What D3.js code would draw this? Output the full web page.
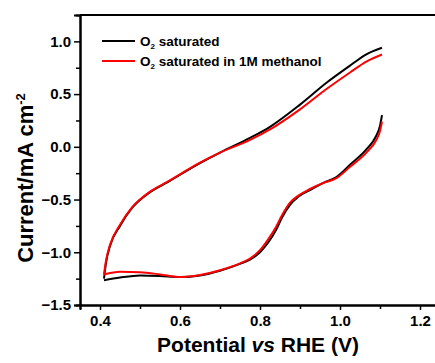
<!DOCTYPE html>
<html>
<head>
<meta charset="utf-8">
<script src="https://cdnjs.cloudflare.com/ajax/libs/d3/7.8.5/d3.min.js"></script>
<style>
  body { margin: 0; background: #fff; }
  text { font-family: "Liberation Sans", Arial, sans-serif; font-weight: bold; fill: #000; }
</style>
</head>
<body>
<div id="chart"></div>
<script>
// potentials (V vs RHE) for the forward (anodic) and reverse (cathodic) sweeps
var forwardPotential = [0.41, 0.415, 0.425, 0.45, 0.48, 0.525, 0.567, 0.65, 0.70, 0.775, 0.825, 0.90, 0.967, 1.025, 1.067, 1.105];
var reversePotential = [1.105, 1.10, 1.09, 1.067, 1.025, 0.99, 0.96, 0.925, 0.895, 0.875, 0.855, 0.84, 0.82, 0.80, 0.775, 0.75, 0.70, 0.65, 0.60, 0.55, 0.50, 0.45, 0.41];

// current density (mA cm-2)
var o2Forward = [-1.25, -1.10, -0.94, -0.75, -0.58, -0.43, -0.34, -0.155, -0.055, 0.085, 0.19, 0.40, 0.61, 0.77, 0.88, 0.94];
var o2Reverse = [0.30, 0.20, 0.10, -0.02, -0.17, -0.29, -0.34, -0.41, -0.475, -0.55, -0.67, -0.79, -0.91, -1.00, -1.07, -1.11, -1.175, -1.22, -1.235, -1.225, -1.22, -1.24, -1.265];
var methForward = [-1.21, -1.08, -0.93, -0.74, -0.575, -0.425, -0.335, -0.15, -0.055, 0.065, 0.165, 0.355, 0.55, 0.705, 0.81, 0.875];
var methReverse = [0.24, 0.15, 0.06, -0.05, -0.19, -0.30, -0.34, -0.40, -0.465, -0.53, -0.65, -0.76, -0.88, -0.98, -1.06, -1.105, -1.17, -1.215, -1.235, -1.21, -1.19, -1.185, -1.21];

var seriesNames = ['O2 saturated', 'O2 saturated in 1M methanol'];
var seriesColors = ['#000000', '#ff0000'];

var xTicks = [0.4, 0.6, 0.8, 1.0, 1.2];
var xMinor = [0.5, 0.7, 0.9, 1.1];
var yTicks = [-1.5, -1.0, -0.5, 0.0, 0.5, 1.0];
var yMinor = [-1.25, -0.75, -0.25, 0.25, 0.75];

var margin = { top: 15, left: 80 };
var width = 360, height = 290;

var svg = d3.select('#chart').append('svg')
  .attr('width', 435)
  .attr('height', 363);

var g = svg.append('g')
  .attr('transform', 'translate(' + margin.left + ',' + margin.top + ')');

var x = d3.scaleLinear().domain([0.35, 1.25]).range([0, width]);
var y = d3.scaleLinear().domain([-1.5, 1.25]).range([height, 0]);

function styleAxis(sel) {
  sel.select('.domain').attr('stroke', '#000').attr('stroke-width', 2);
  sel.selectAll('.tick line').attr('stroke', '#000').attr('stroke-width', 1.5);
  sel.selectAll('.tick text').style('font-size', '15px');
}

// frame (top + right)
g.append('path')
  .attr('d', 'M0,0H' + width + 'V' + height)
  .attr('fill', 'none').attr('stroke', '#000').attr('stroke-width', 2);

// minor ticks
g.append('g')
  .attr('transform', 'translate(0,' + height + ')')
  .call(d3.axisBottom(x).tickValues(xMinor).tickSize(4).tickFormat(''))
  .call(styleAxis);
g.append('g')
  .call(d3.axisLeft(y).tickValues(yMinor).tickSize(4).tickFormat(''))
  .call(styleAxis);

// major axes
g.append('g')
  .attr('transform', 'translate(0,' + height + ')')
  .call(d3.axisBottom(x).tickValues(xTicks).tickSize(5).tickPadding(5).tickFormat(d3.format('.1f')))
  .call(styleAxis);
g.append('g')
  .call(d3.axisLeft(y).tickValues(yTicks).tickSize(6).tickPadding(3).tickFormat(d3.format('.1f')))
  .call(styleAxis);

// curves
var line = d3.line()
  .x(function(d) { return x(d[0]); })
  .y(function(d) { return y(d[1]); })
  .curve(d3.curveMonotoneX);

var branches = [
  { color: 0, pot: forwardPotential, cur: o2Forward },
  { color: 0, pot: reversePotential, cur: o2Reverse },
  { color: 1, pot: forwardPotential, cur: methForward },
  { color: 1, pot: reversePotential, cur: methReverse }
];

branches.forEach(function(b) {
  var pts = d3.zip(b.pot, b.cur).sort(function(a, c) { return a[0] - c[0]; });
  g.append('path')
    .datum(pts)
    .attr('fill', 'none')
    .attr('stroke', seriesColors[b.color])
    .attr('stroke-width', 2)
    .attr('stroke-linejoin', 'round')
    .attr('d', line);
});

// legend
var legend = svg.append('g').attr('transform', 'translate(102,41)');
seriesNames.forEach(function(name, i) {
  var row = legend.append('g').attr('transform', 'translate(0,' + (i * 20) + ')');
  row.append('line')
    .attr('x1', 0).attr('x2', 33)
    .attr('stroke', seriesColors[i]).attr('stroke-width', 2);
  var t = row.append('text')
    .attr('x', 38).attr('y', 5)
    .style('font-size', '13.5px');
  t.append('tspan').text('O');
  t.append('tspan').attr('dy', 3).style('font-size', '8px').text('2');
  t.append('tspan').attr('dy', -3).text(name.replace('O2', ''));
});

// axis titles
var xt = svg.append('text')
  .attr('x', 258).attr('y', 352)
  .attr('text-anchor', 'middle')
  .style('font-size', '21px');
xt.append('tspan').text('Potential ');
xt.append('tspan').style('font-style', 'italic').text('vs');
xt.append('tspan').text(' RHE (V)');

var yt = svg.append('text')
  .attr('transform', 'translate(33,178) rotate(-90)')
  .attr('text-anchor', 'middle')
  .style('font-size', '22px');
yt.append('tspan').text('Current/mA cm');
yt.append('tspan').attr('dy', -8).style('font-size', '13px').text('-2');
</script>
</body>
</html>
